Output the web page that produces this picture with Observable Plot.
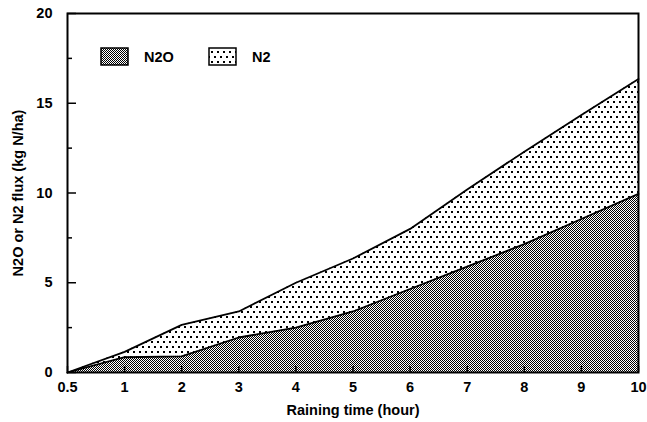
<!DOCTYPE html>
<html>
<head>
<meta charset="utf-8">
<script src="https://cdn.jsdelivr.net/npm/d3@7"></script>
<script src="https://cdn.jsdelivr.net/npm/@observablehq/plot@0.6"></script>
<style>body{margin:0;background:#fff}</style>
</head>
<body>
<div id="chart"></div>
<script>
// datos
const hours = [0.5, 1, 2, 3, 4, 5, 6, 7, 8, 9, 10];
const n2o = [0, 0.85, 0.9, 1.95, 2.5, 3.4, 4.65, 5.9, 7.15, 8.55, 9.95];
const n2 = [0, 1.15, 2.65, 3.4, 5.0, 6.35, 8.0, 10.2, 12.3, 14.35, 16.35];
const yMajor = [0, 5, 10, 15, 20];
const yMinor = [2.5, 7.5, 12.5, 17.5];
const series = ["N2O", "N2"];

// las horas van igualmente espaciadas (0.5 ocupa un lugar entero)
const data = hours.map((h, i) => ({i, hour: h, n2o: n2o[i], n2: n2[i]}));

// patrones de relleno
const patterns = () => {
  const defs = d3.create("svg:defs");
  const chk = defs.append("pattern").attr("id", "checker")
    .attr("patternUnits", "userSpaceOnUse").attr("width", 2).attr("height", 2);
  chk.append("rect").attr("width", 2).attr("height", 2).attr("fill", "#fff");
  chk.selectAll("rect.c").data([[0, 0], [1, 1]]).join("rect")
    .attr("x", d => d[0]).attr("y", d => d[1]).attr("width", 1).attr("height", 1)
    .attr("fill", "#000").attr("shape-rendering", "crispEdges");
  const dots = defs.append("pattern").attr("id", "dots")
    .attr("patternUnits", "userSpaceOnUse").attr("width", 6).attr("height", 10);
  dots.append("rect").attr("width", 6).attr("height", 10).attr("fill", "#fff");
  dots.selectAll("rect.d").data([[1, 1], [4, 6]]).join("rect")
    .attr("x", d => d[0]).attr("y", d => d[1]).attr("width", 2).attr("height", 2)
    .attr("fill", "#000").attr("shape-rendering", "crispEdges");
  return defs.node();
};

// leyenda dentro del cuadro
const legend = () => {
  const g = d3.create("svg:g").attr("text-anchor", "start");
  const fills = ["url(#checker)", "url(#dots)"];
  const xs = [101, 209];
  series.forEach((s, k) => {
    g.append("rect").attr("x", xs[k]).attr("y", 48).attr("width", 27).attr("height", 17)
      .attr("fill", fills[k]).attr("stroke", "#000").attr("stroke-width", 1.5);
    g.append("text").attr("x", xs[k] + 43).attr("y", 62).attr("fill", "#000")
      .attr("text-anchor", "start").text(s);
  });
  return g.node();
};

let chart = Plot.plot({
  width: 647,
  height: 422,
  marginTop: 13,
  marginRight: 9,
  marginBottom: 50,
  marginLeft: 67,
  style: {
    fontFamily: "Liberation Sans, Arial, sans-serif",
    fontSize: "14.5px",
    fontWeight: "bold",
    background: "#fff"
  },
  x: {domain: [0, hours.length - 1]},
  y: {domain: [0, 20]},
  marks: [
    patterns,
    Plot.areaY(data, {x: "i", y: "n2", fill: "url(#dots)"}),
    Plot.areaY(data, {x: "i", y: "n2o", fill: "url(#checker)"}),
    Plot.line(data, {x: "i", y: "n2", stroke: "#000", strokeWidth: 1.8}),
    Plot.line(data, {x: "i", y: "n2o", stroke: "#000", strokeWidth: 1.8}),
    Plot.axisX({
      ticks: d3.range(hours.length),
      tickFormat: i => hours[i],
      tickSize: -6,
      tickPadding: 15,
      strokeWidth: 1.5,
      label: "Raining time (hour)",
      labelAnchor: "center",
      labelArrow: "none",
      labelOffset: 42
    }),
    Plot.axisY({
      ticks: yMajor,
      tickSize: -9,
      tickPadding: 24,
      strokeWidth: 1.5,
      label: "N2O or N2 flux (kg N/ha)",
      labelAnchor: "center",
      labelArrow: "none",
      labelOffset: 55
    }),
    Plot.axisY({ticks: yMinor, tickSize: -5, tickFormat: () => "", strokeWidth: 1.5, label: null}),
    Plot.frame({stroke: "#000", strokeWidth: 2}),
    legend
  ]
});

d3.select("#chart").append(() => chart);
</script>
</body>
</html>
